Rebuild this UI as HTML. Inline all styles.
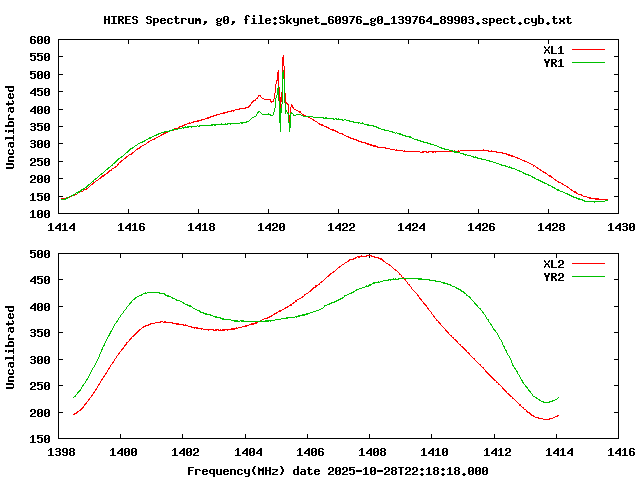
<!DOCTYPE html>
<html><head><meta charset="utf-8"><title>HIRES Spectrum</title>
<style>html,body{margin:0;padding:0;background:#fff;width:640px;height:480px;overflow:hidden}svg{display:block}</style></head><body>
<svg width="640" height="480" viewBox="0 0 640 480" shape-rendering="crispEdges">
<defs>
<path id="g40" d="M3 2h2v1h-2zM2 3h2v2h-2zM1 5h2v3h-2zM2 8h2v2h-2zM3 10h2v1h-2z"/>
<path id="g41" d="M1 2h2v1h-2zM2 3h2v2h-2zM3 5h2v3h-2zM2 8h2v2h-2zM1 10h2v1h-2z"/>
<path id="g44" d="M2 8h3v2h-3zM2 10h2v1h-2zM1 11h2v1h-2z"/>
<path id="g45" d="M0 6h6v2h-6z"/>
<path id="g46" d="M2 9h2v1h-2zM1 10h4v1h-4zM2 11h2v1h-2z"/>
<path id="g48" d="M1 3h4v1h-4zM4 4h2v2h-2zM0 4h2v3h-2zM3 6h3v1h-3zM0 7h3v1h-3zM0 8h2v2h-2zM4 7h2v3h-2zM1 10h4v1h-4z"/>
<path id="g49" d="M2 3h2v1h-2zM1 4h3v1h-3zM0 5h1v1h-1zM2 5h2v5h-2zM0 10h6v1h-6z"/>
<path id="g50" d="M1 3h4v1h-4zM0 4h2v2h-2zM4 4h2v3h-2zM2 7h3v1h-3zM1 8h2v1h-2zM0 9h2v1h-2zM0 10h6v1h-6z"/>
<path id="g51" d="M1 3h4v1h-4zM0 4h2v1h-2zM4 4h2v2h-2zM1 6h4v1h-4zM0 9h2v1h-2zM4 7h2v3h-2zM1 10h4v1h-4z"/>
<path id="g52" d="M4 3h2v1h-2zM3 4h3v1h-3zM2 5h4v1h-4zM1 6h2v1h-2zM0 7h2v1h-2zM4 6h2v2h-2zM0 8h6v1h-6zM4 9h2v2h-2z"/>
<path id="g53" d="M0 3h6v1h-6zM0 4h2v1h-2zM0 5h5v1h-5zM0 6h2v1h-2zM0 9h2v1h-2zM4 6h2v4h-2zM1 10h4v1h-4z"/>
<path id="g54" d="M1 3h4v1h-4zM4 4h2v1h-2zM0 4h2v2h-2zM0 6h5v1h-5zM0 7h2v3h-2zM4 7h2v3h-2zM1 10h4v1h-4z"/>
<path id="g55" d="M0 3h6v1h-6zM4 4h2v1h-2zM3 5h2v2h-2zM2 7h2v2h-2zM1 9h2v2h-2z"/>
<path id="g56" d="M1 3h4v1h-4zM0 4h2v2h-2zM4 4h2v2h-2zM1 6h4v1h-4zM0 7h2v3h-2zM4 7h2v3h-2zM1 10h4v1h-4z"/>
<path id="g57" d="M1 3h4v1h-4zM0 4h2v3h-2zM4 4h2v3h-2zM1 7h5v1h-5zM0 9h2v1h-2zM4 8h2v2h-2zM1 10h4v1h-4z"/>
<path id="g58" d="M2 4h2v1h-2zM1 5h4v1h-4zM2 6h2v1h-2zM2 9h2v1h-2zM1 10h4v1h-4zM2 11h2v1h-2z"/>
<path id="g69" d="M0 3h6v1h-6zM0 4h2v2h-2zM0 6h5v1h-5zM0 7h2v3h-2zM0 10h6v1h-6z"/>
<path id="g70" d="M0 3h6v1h-6zM0 4h2v2h-2zM0 6h5v1h-5zM0 7h2v4h-2z"/>
<path id="g72" d="M0 3h2v3h-2zM4 3h2v3h-2zM0 6h6v1h-6zM0 7h2v4h-2zM4 7h2v4h-2z"/>
<path id="g73" d="M0 3h6v1h-6zM2 4h2v6h-2zM0 10h6v1h-6z"/>
<path id="g76" d="M0 3h2v7h-2zM0 10h6v1h-6z"/>
<path id="g77" d="M0 3h1v1h-1zM5 3h1v1h-1zM0 4h2v1h-2zM4 4h2v1h-2zM0 5h6v2h-6zM0 7h2v4h-2zM4 7h2v4h-2z"/>
<path id="g82" d="M0 3h5v1h-5zM0 4h2v2h-2zM4 4h2v2h-2zM0 6h5v1h-5zM0 7h4v1h-4zM3 8h2v1h-2zM0 8h2v3h-2zM4 9h2v2h-2z"/>
<path id="g83" d="M1 3h4v1h-4zM4 4h2v1h-2zM0 4h2v2h-2zM1 6h4v1h-4zM0 9h2v1h-2zM4 7h2v3h-2zM1 10h4v1h-4z"/>
<path id="g84" d="M0 3h6v1h-6zM2 4h2v7h-2z"/>
<path id="g85" d="M0 3h2v7h-2zM4 3h2v7h-2zM1 10h4v1h-4z"/>
<path id="g88" d="M0 3h1v1h-1zM5 3h1v1h-1zM0 4h2v1h-2zM4 4h2v1h-2zM4 5h1v1h-1zM1 5h1v1h-1zM2 6h2v1h-2zM1 7h4v1h-4zM4 8h1v1h-1zM1 8h1v1h-1zM0 9h2v1h-2zM4 9h2v1h-2zM0 10h1v1h-1zM5 10h1v1h-1z"/>
<path id="g89" d="M0 3h2v2h-2zM4 3h2v2h-2zM1 5h4v2h-4zM2 7h2v4h-2z"/>
<path id="g95" d="M0 10h6v2h-6z"/>
<path id="g97" d="M1 5h4v1h-4zM4 6h2v1h-2zM1 7h5v1h-5zM0 8h2v2h-2zM4 8h2v2h-2zM1 10h5v1h-5z"/>
<path id="g98" d="M0 2h2v3h-2zM0 5h5v1h-5zM0 6h2v4h-2zM4 6h2v4h-2zM0 10h5v1h-5z"/>
<path id="g99" d="M1 5h4v1h-4zM4 6h2v1h-2zM0 6h2v4h-2zM4 9h2v1h-2zM1 10h4v1h-4z"/>
<path id="g100" d="M4 2h2v3h-2zM1 5h5v1h-5zM0 6h2v4h-2zM4 6h2v4h-2zM1 10h5v1h-5z"/>
<path id="g101" d="M1 5h4v1h-4zM0 6h2v1h-2zM4 6h2v1h-2zM0 7h6v1h-6zM0 8h2v2h-2zM4 9h2v1h-2zM1 10h4v1h-4z"/>
<path id="g102" d="M2 2h3v1h-3zM4 3h2v1h-2zM1 3h2v3h-2zM0 6h4v1h-4zM1 7h2v4h-2z"/>
<path id="g103" d="M5 5h1v1h-1zM1 5h3v1h-3zM0 6h2v2h-2zM4 6h2v2h-2zM1 8h4v1h-4zM0 9h2v1h-2zM1 10h4v1h-4zM0 11h2v1h-2zM4 11h2v1h-2zM1 12h4v1h-4z"/>
<path id="g105" d="M2 2h2v2h-2zM1 5h3v1h-3zM2 6h2v4h-2zM0 10h6v1h-6z"/>
<path id="g107" d="M4 5h2v1h-2zM0 2h2v5h-2zM3 6h2v1h-2zM0 7h4v2h-4zM3 9h2v1h-2zM0 9h2v2h-2zM4 10h2v1h-2z"/>
<path id="g108" d="M1 2h3v1h-3zM2 3h2v7h-2zM0 10h6v1h-6z"/>
<path id="g109" d="M0 5h2v1h-2zM3 5h2v1h-2zM0 6h6v2h-6zM0 8h2v3h-2zM4 8h2v3h-2z"/>
<path id="g110" d="M0 5h5v1h-5zM0 6h2v5h-2zM4 6h2v5h-2z"/>
<path id="g112" d="M0 5h5v1h-5zM0 6h2v3h-2zM4 6h2v3h-2zM0 9h5v1h-5zM0 10h2v3h-2z"/>
<path id="g113" d="M1 5h5v1h-5zM0 6h2v3h-2zM4 6h2v3h-2zM1 9h5v1h-5zM4 10h2v3h-2z"/>
<path id="g114" d="M0 5h5v1h-5zM4 6h2v1h-2zM0 6h2v5h-2z"/>
<path id="g115" d="M1 5h4v1h-4zM0 6h2v1h-2zM4 6h2v1h-2zM1 7h2v1h-2zM3 8h2v1h-2zM0 9h2v1h-2zM4 9h2v1h-2zM1 10h4v1h-4z"/>
<path id="g116" d="M1 3h2v2h-2zM0 5h5v1h-5zM4 9h2v1h-2zM1 6h2v4h-2zM2 10h3v1h-3z"/>
<path id="g117" d="M0 5h2v5h-2zM4 5h2v5h-2zM1 10h5v1h-5z"/>
<path id="g120" d="M0 5h2v2h-2zM4 5h2v2h-2zM1 7h4v2h-4zM0 9h2v2h-2zM4 9h2v2h-2z"/>
<path id="g121" d="M0 5h2v4h-2zM4 5h2v4h-2zM1 9h5v1h-5zM4 10h2v2h-2zM1 12h4v1h-4z"/>
<path id="g122" d="M0 5h6v1h-6zM4 6h2v1h-2zM3 7h2v1h-2zM1 8h2v1h-2zM0 9h2v1h-2zM0 10h6v1h-6z"/>
</defs>
<rect width="640" height="480" fill="#fff"/>
<path fill="#000" d="M58 39h561v1h-561zM408 40h1v4h-1zM128 40h1v4h-1zM478 40h1v4h-1zM198 40h1v4h-1zM338 40h1v4h-1zM548 40h1v4h-1zM268 40h1v4h-1zM618 40h1v16h-1zM58 40h1v16h-1zM614 56h5v1h-5zM58 56h5v1h-5zM618 57h1v17h-1zM58 57h1v17h-1zM614 74h5v1h-5zM58 74h5v1h-5zM618 75h1v16h-1zM58 75h1v16h-1zM614 91h5v1h-5zM58 91h5v1h-5zM618 92h1v17h-1zM58 92h1v17h-1zM614 109h5v1h-5zM58 109h5v1h-5zM618 110h1v16h-1zM58 110h1v16h-1zM614 126h5v1h-5zM58 126h5v1h-5zM618 127h1v16h-1zM58 127h1v16h-1zM614 143h5v1h-5zM58 143h5v1h-5zM618 144h1v17h-1zM58 144h1v17h-1zM614 161h5v1h-5zM58 161h5v1h-5zM618 162h1v16h-1zM58 162h1v16h-1zM614 178h5v1h-5zM58 178h5v1h-5zM618 179h1v17h-1zM58 179h1v17h-1zM614 196h5v1h-5zM58 196h5v1h-5zM58 197h1v16h-1zM408 209h1v4h-1zM128 209h1v4h-1zM478 209h1v4h-1zM198 209h1v4h-1zM618 197h1v16h-1zM338 209h1v4h-1zM548 209h1v4h-1zM268 209h1v4h-1zM58 213h561v1h-561zM58 253h561v1h-561zM431 254h1v4h-1zM494 254h1v4h-1zM182 254h1v4h-1zM369 254h1v4h-1zM307 254h1v4h-1zM120 254h1v4h-1zM556 254h1v4h-1zM245 254h1v4h-1zM618 254h1v25h-1zM58 254h1v25h-1zM614 279h5v1h-5zM58 279h5v1h-5zM618 280h1v26h-1zM58 280h1v26h-1zM614 306h5v1h-5zM58 306h5v1h-5zM618 307h1v25h-1zM58 307h1v25h-1zM614 332h5v1h-5zM58 332h5v1h-5zM618 333h1v26h-1zM58 333h1v26h-1zM614 359h5v1h-5zM58 359h5v1h-5zM618 360h1v25h-1zM58 360h1v25h-1zM614 385h5v1h-5zM58 385h5v1h-5zM618 386h1v26h-1zM58 386h1v26h-1zM614 412h5v1h-5zM58 412h5v1h-5zM431 434h1v4h-1zM58 413h1v25h-1zM494 434h1v4h-1zM182 434h1v4h-1zM369 434h1v4h-1zM307 434h1v4h-1zM120 434h1v4h-1zM618 413h1v25h-1zM556 434h1v4h-1zM245 434h1v4h-1zM58 438h561v1h-561z"/>
<path fill="#f00" d="M572 49h33v1h-33zM283 55h1v2h-1zM282 57h2v9h-2zM278 70h1v2h-1zM282 66h1v6h-1zM284 66h1v13h-1zM277 72h2v8h-2zM276 80h3v1h-3zM276 81h1v3h-1zM278 81h1v5h-1zM275 84h1v9h-1zM258 95h3v1h-3zM279 87h1v10h-1zM260 96h1v1h-1zM281 92h1v5h-1zM258 96h1v1h-1zM257 97h1v1h-1zM261 97h1v1h-1zM262 98h2v1h-2zM256 98h2v1h-2zM274 93h1v6h-1zM255 99h1v1h-1zM264 99h7v1h-7zM270 100h1v1h-1zM273 99h1v2h-1zM279 97h3v4h-3zM253 100h3v1h-3zM270 101h4v1h-4zM280 101h2v1h-2zM285 93h1v9h-1zM252 101h2v1h-2zM271 102h1v1h-1zM251 102h2v1h-2zM285 102h2v1h-2zM251 103h1v1h-1zM286 103h2v1h-2zM291 104h1v1h-1zM250 104h1v1h-1zM287 104h2v1h-2zM249 105h2v1h-2zM291 105h2v2h-2zM248 106h2v1h-2zM245 107h4v1h-4zM292 107h2v1h-2zM280 102h1v6h-1zM239 108h7v1h-7zM293 108h1v1h-1zM294 109h2v1h-2zM235 109h5v1h-5zM231 110h4v1h-4zM296 110h2v1h-2zM227 111h5v1h-5zM233 111h1v1h-1zM298 111h3v1h-3zM299 112h2v1h-2zM288 105h1v8h-1zM290 107h1v6h-1zM223 112h5v1h-5zM301 113h1v1h-1zM220 113h5v1h-5zM302 114h2v1h-2zM216 114h4v1h-4zM303 115h3v1h-3zM213 115h4v1h-4zM210 116h4v1h-4zM308 117h2v1h-2zM207 117h4v1h-4zM310 118h2v1h-2zM205 118h4v1h-4zM201 119h4v1h-4zM312 119h2v1h-2zM197 120h5v1h-5zM313 120h2v1h-2zM193 121h6v1h-6zM315 121h2v1h-2zM289 115h1v7h-1zM317 122h1v1h-1zM189 122h1v1h-1zM191 122h3v1h-3zM187 123h4v1h-4zM318 123h2v1h-2zM319 124h4v1h-4zM184 124h3v1h-3zM321 125h3v1h-3zM182 125h3v1h-3zM324 126h3v1h-3zM179 126h4v1h-4zM178 127h2v1h-2zM326 127h3v1h-3zM328 128h2v1h-2zM174 128h4v1h-4zM330 129h4v1h-4zM173 130h1v1h-1zM332 130h4v1h-4zM335 131h3v1h-3zM337 132h2v1h-2zM165 132h3v1h-3zM163 133h3v1h-3zM339 133h4v1h-4zM161 134h3v1h-3zM342 134h2v1h-2zM160 135h2v1h-2zM344 135h2v1h-2zM346 136h3v1h-3zM158 136h2v1h-2zM156 137h2v1h-2zM348 137h3v1h-3zM154 138h2v1h-2zM350 138h4v1h-4zM353 139h4v1h-4zM152 139h3v1h-3zM150 140h2v1h-2zM356 140h3v1h-3zM358 141h4v1h-4zM148 141h2v1h-2zM147 142h2v1h-2zM361 142h5v1h-5zM365 143h4v1h-4zM146 143h1v1h-1zM367 144h5v1h-5zM144 144h2v1h-2zM142 145h2v1h-2zM370 145h6v1h-6zM373 146h5v1h-5zM140 146h2v1h-2zM139 147h2v1h-2zM377 147h9v1h-9zM137 148h3v1h-3zM385 148h5v1h-5zM396 149h1v1h-1zM136 149h2v1h-2zM390 149h5v1h-5zM483 149h1v1h-1zM460 150h29v1h-29zM404 150h1v1h-1zM135 150h1v1h-1zM491 150h1v1h-1zM454 150h1v1h-1zM458 150h1v1h-1zM395 150h8v1h-8zM134 151h1v1h-1zM457 151h3v1h-3zM488 151h9v1h-9zM422 151h5v1h-5zM428 151h24v1h-24zM403 151h17v1h-17zM432 152h2v1h-2zM132 152h2v1h-2zM435 152h1v1h-1zM420 152h4v1h-4zM426 152h3v1h-3zM496 152h7v1h-7zM131 153h2v1h-2zM502 153h5v1h-5zM506 154h4v1h-4zM129 154h3v1h-3zM508 155h5v1h-5zM128 155h1v1h-1zM511 156h4v1h-4zM126 156h2v1h-2zM515 157h3v1h-3zM125 157h2v1h-2zM517 158h3v1h-3zM124 158h2v1h-2zM123 159h1v1h-1zM520 159h2v1h-2zM121 160h2v1h-2zM522 160h3v1h-3zM524 161h3v1h-3zM120 161h2v1h-2zM119 162h2v1h-2zM527 162h2v1h-2zM529 163h2v1h-2zM118 163h1v1h-1zM117 164h2v1h-2zM531 164h2v1h-2zM533 165h2v1h-2zM117 165h1v1h-1zM115 166h2v1h-2zM535 166h1v1h-1zM533 166h1v1h-1zM114 167h2v1h-2zM536 167h2v1h-2zM112 168h2v1h-2zM537 168h2v1h-2zM539 169h2v1h-2zM111 169h1v1h-1zM540 170h2v1h-2zM109 170h3v1h-3zM542 171h2v1h-2zM108 171h2v1h-2zM107 172h2v1h-2zM543 172h3v1h-3zM106 173h2v1h-2zM545 173h2v1h-2zM104 174h2v1h-2zM547 174h1v1h-1zM102 175h3v1h-3zM548 175h3v1h-3zM549 176h3v1h-3zM101 176h3v1h-3zM551 177h2v1h-2zM100 177h2v1h-2zM99 178h2v1h-2zM553 178h1v1h-1zM98 179h1v1h-1zM554 179h2v1h-2zM555 180h2v1h-2zM96 180h2v1h-2zM557 181h2v1h-2zM95 181h1v1h-1zM558 182h3v1h-3zM93 182h2v1h-2zM561 183h2v1h-2zM92 183h2v1h-2zM562 184h2v1h-2zM91 184h2v1h-2zM90 185h1v1h-1zM564 185h2v1h-2zM566 186h2v1h-2zM89 186h1v1h-1zM88 187h1v1h-1zM567 187h2v1h-2zM86 188h2v1h-2zM569 188h1v1h-1zM84 189h3v1h-3zM570 189h2v1h-2zM571 190h2v1h-2zM83 190h1v1h-1zM573 191h3v1h-3zM81 191h2v1h-2zM79 192h1v1h-1zM574 192h3v1h-3zM576 193h2v1h-2zM578 194h4v1h-4zM75 194h2v1h-2zM74 195h1v1h-1zM581 195h2v1h-2zM71 196h1v1h-1zM583 196h4v1h-4zM66 197h1v1h-1zM587 197h4v1h-4zM69 197h1v1h-1zM589 198h10v1h-10zM61 198h4v1h-4zM595 199h13v1h-13zM361 255h1v1h-1zM366 255h6v1h-6zM371 256h4v1h-4zM357 256h10v1h-10zM355 257h2v1h-2zM358 257h2v1h-2zM374 257h5v1h-5zM353 258h3v1h-3zM378 258h4v1h-4zM349 259h5v1h-5zM380 259h3v1h-3zM348 260h2v1h-2zM382 260h2v1h-2zM383 261h2v1h-2zM347 261h2v1h-2zM385 262h1v1h-1zM345 262h2v1h-2zM572 263h33v1h-33zM344 263h1v1h-1zM386 263h2v1h-2zM388 264h2v1h-2zM342 264h2v1h-2zM341 265h1v1h-1zM389 265h2v1h-2zM339 266h2v1h-2zM391 266h1v1h-1zM392 267h1v1h-1zM338 267h2v1h-2zM337 268h1v1h-1zM393 268h1v1h-1zM394 269h2v1h-2zM336 269h1v1h-1zM335 270h1v1h-1zM395 270h2v1h-2zM333 271h2v1h-2zM397 271h1v1h-1zM398 272h1v1h-1zM332 272h2v1h-2zM330 273h2v1h-2zM399 273h1v1h-1zM399 274h2v1h-2zM329 274h2v1h-2zM328 275h2v1h-2zM401 275h1v2h-1zM327 276h2v1h-2zM326 277h1v1h-1zM402 277h2v1h-2zM325 278h1v1h-1zM404 279h2v1h-2zM324 279h1v1h-1zM405 280h1v1h-1zM323 280h1v1h-1zM321 281h2v1h-2zM406 281h1v1h-1zM320 282h2v1h-2zM319 283h1v1h-1zM407 282h1v2h-1zM408 284h2v1h-2zM318 284h2v1h-2zM315 285h3v1h-3zM409 285h1v1h-1zM315 286h2v1h-2zM410 286h1v1h-1zM313 287h3v1h-3zM411 287h1v2h-1zM312 288h2v1h-2zM412 289h1v1h-1zM311 289h2v1h-2zM310 290h2v1h-2zM413 290h1v1h-1zM414 291h1v1h-1zM309 291h2v1h-2zM308 292h1v1h-1zM415 292h1v1h-1zM306 293h2v1h-2zM416 293h1v1h-1zM304 294h2v1h-2zM417 294h1v1h-1zM304 295h1v1h-1zM417 295h2v1h-2zM302 296h2v1h-2zM418 296h1v1h-1zM301 297h2v1h-2zM419 297h1v1h-1zM299 298h2v1h-2zM419 298h2v1h-2zM297 299h2v1h-2zM420 299h2v1h-2zM421 300h1v1h-1zM295 300h2v2h-2zM422 301h1v1h-1zM293 302h2v1h-2zM423 302h1v1h-1zM423 303h2v1h-2zM292 303h2v1h-2zM290 304h2v1h-2zM424 304h2v1h-2zM289 305h3v1h-3zM425 305h2v1h-2zM426 306h1v1h-1zM287 306h2v1h-2zM427 307h1v1h-1zM285 307h3v1h-3zM427 308h2v1h-2zM284 308h2v1h-2zM282 309h2v1h-2zM428 309h1v1h-1zM429 310h1v1h-1zM279 310h3v1h-3zM278 311h3v1h-3zM430 311h1v1h-1zM276 312h2v1h-2zM274 313h3v1h-3zM431 312h1v2h-1zM273 314h2v1h-2zM432 314h1v1h-1zM271 315h2v1h-2zM433 315h1v1h-1zM269 316h3v1h-3zM433 316h2v1h-2zM434 317h1v1h-1zM267 317h3v1h-3zM264 318h4v1h-4zM435 318h1v1h-1zM436 319h1v1h-1zM262 319h2v1h-2zM436 320h2v1h-2zM260 320h1v1h-1zM164 321h2v1h-2zM438 321h1v1h-1zM160 321h3v1h-3zM438 322h2v1h-2zM155 322h6v1h-6zM163 322h10v1h-10zM255 322h3v1h-3zM251 323h6v1h-6zM439 323h2v1h-2zM150 323h5v1h-5zM172 323h7v1h-7zM440 324h1v1h-1zM176 324h8v1h-8zM249 324h5v1h-5zM185 324h1v1h-1zM148 324h3v1h-3zM183 325h5v1h-5zM245 325h4v1h-4zM145 325h4v1h-4zM441 325h1v1h-1zM143 326h3v1h-3zM442 326h1v1h-1zM188 326h4v1h-4zM242 326h5v1h-5zM443 327h1v1h-1zM238 327h4v1h-4zM142 327h2v1h-2zM236 327h1v1h-1zM191 327h7v1h-7zM196 328h7v1h-7zM444 328h1v1h-1zM141 328h1v1h-1zM194 328h1v1h-1zM231 328h7v1h-7zM215 329h4v1h-4zM201 329h1v1h-1zM222 329h13v1h-13zM139 329h2v1h-2zM220 329h1v1h-1zM445 329h1v1h-1zM203 329h11v1h-11zM208 330h1v1h-1zM445 330h2v1h-2zM227 330h1v1h-1zM218 330h7v1h-7zM213 330h4v1h-4zM138 330h2v1h-2zM137 331h2v1h-2zM446 331h2v1h-2zM136 332h2v1h-2zM447 332h2v1h-2zM448 333h1v1h-1zM135 333h2v1h-2zM449 334h1v1h-1zM134 334h2v1h-2zM133 335h2v1h-2zM450 335h2v1h-2zM132 336h2v1h-2zM451 336h1v1h-1zM131 337h1v1h-1zM452 337h2v1h-2zM130 338h2v1h-2zM453 338h1v1h-1zM454 339h2v1h-2zM129 339h2v1h-2zM129 340h1v1h-1zM455 340h2v1h-2zM456 341h2v1h-2zM128 341h1v1h-1zM457 342h1v1h-1zM126 342h2v1h-2zM458 343h1v1h-1zM126 343h1v1h-1zM125 344h2v1h-2zM459 344h2v1h-2zM460 345h1v1h-1zM124 345h2v1h-2zM124 346h1v1h-1zM461 346h2v1h-2zM123 347h1v1h-1zM462 347h2v1h-2zM463 348h2v1h-2zM122 348h2v1h-2zM121 349h2v1h-2zM464 349h2v1h-2zM465 350h2v1h-2zM121 350h1v1h-1zM466 351h1v1h-1zM120 351h1v1h-1zM467 352h2v1h-2zM119 352h1v1h-1zM118 353h2v1h-2zM468 353h2v1h-2zM469 354h1v1h-1zM118 354h1v1h-1zM470 355h1v1h-1zM117 355h1v1h-1zM471 356h1v1h-1zM116 356h1v2h-1zM472 357h1v1h-1zM473 358h2v1h-2zM115 358h1v1h-1zM474 359h1v1h-1zM114 359h1v2h-1zM475 360h1v1h-1zM476 361h1v1h-1zM113 361h1v1h-1zM112 362h2v1h-2zM477 362h1v1h-1zM478 363h1v1h-1zM112 363h1v1h-1zM111 364h1v1h-1zM479 364h2v1h-2zM480 365h1v1h-1zM481 366h1v1h-1zM110 365h1v2h-1zM482 367h2v1h-2zM109 367h1v1h-1zM108 368h2v1h-2zM483 368h1v1h-1zM108 369h1v1h-1zM484 369h1v1h-1zM485 370h1v1h-1zM485 371h2v1h-2zM107 370h1v2h-1zM486 372h2v1h-2zM106 372h1v1h-1zM487 373h2v1h-2zM105 373h2v1h-2zM105 374h1v1h-1zM488 374h2v1h-2zM489 375h2v1h-2zM104 375h1v1h-1zM103 376h2v1h-2zM490 376h2v1h-2zM103 377h1v1h-1zM491 377h2v1h-2zM102 378h1v1h-1zM492 378h2v1h-2zM101 379h2v1h-2zM493 379h2v1h-2zM101 380h1v1h-1zM494 380h2v1h-2zM496 381h1v1h-1zM496 382h2v1h-2zM100 381h1v2h-1zM99 383h1v1h-1zM498 383h1v1h-1zM498 384h2v1h-2zM98 384h2v1h-2zM500 385h1v1h-1zM98 385h1v1h-1zM501 386h1v1h-1zM502 387h1v1h-1zM97 386h1v2h-1zM502 388h2v1h-2zM96 388h1v1h-1zM95 389h2v1h-2zM503 389h2v1h-2zM504 390h2v1h-2zM95 390h1v1h-1zM505 391h2v1h-2zM94 391h1v1h-1zM506 392h1v1h-1zM93 392h2v1h-2zM507 393h2v1h-2zM93 393h1v1h-1zM92 394h1v1h-1zM508 394h2v1h-2zM509 395h2v1h-2zM91 395h2v1h-2zM91 396h1v1h-1zM510 396h2v1h-2zM90 397h1v1h-1zM512 397h1v1h-1zM89 398h1v1h-1zM512 398h2v1h-2zM88 399h2v1h-2zM514 399h1v1h-1zM88 400h1v1h-1zM515 400h1v1h-1zM87 401h1v1h-1zM516 401h1v1h-1zM517 402h1v1h-1zM86 402h1v1h-1zM518 403h1v1h-1zM85 403h2v1h-2zM84 404h2v1h-2zM519 404h2v2h-2zM84 405h1v1h-1zM83 406h1v1h-1zM521 406h1v1h-1zM82 407h2v1h-2zM522 407h2v1h-2zM81 408h2v1h-2zM523 408h1v1h-1zM524 409h2v1h-2zM80 409h2v1h-2zM79 410h2v1h-2zM526 410h1v1h-1zM77 411h2v1h-2zM526 411h2v1h-2zM527 412h3v1h-3zM76 412h2v1h-2zM529 413h2v1h-2zM74 413h3v1h-3zM73 414h2v1h-2zM530 414h2v1h-2zM557 415h2v1h-2zM531 415h3v1h-3zM533 416h2v1h-2zM555 416h3v1h-3zM553 417h2v1h-2zM535 417h4v1h-4zM549 418h4v1h-4zM538 418h5v1h-5zM543 419h7v1h-7z"/>
<path fill="#00c000" d="M572 62h33v1h-33zM283 70h1v2h-1zM282 72h2v7h-2zM278 86h1v2h-1zM277 88h2v7h-2zM276 95h1v3h-1zM278 95h1v6h-1zM284 79h1v24h-1zM282 79h1v25h-1zM275 98h1v10h-1zM281 104h1v4h-1zM279 101h1v7h-1zM285 103h1v7h-1zM258 111h2v1h-2zM285 110h2v2h-2zM274 108h1v4h-1zM257 112h2v1h-2zM260 112h1v1h-1zM279 108h3v5h-3zM291 112h1v1h-1zM287 112h1v1h-1zM257 113h1v1h-1zM290 113h3v1h-3zM287 113h2v1h-2zM285 112h1v2h-1zM268 113h1v1h-1zM261 113h1v1h-1zM273 112h1v3h-1zM296 114h5v1h-5zM262 114h9v1h-9zM293 114h1v1h-1zM293 115h3v1h-3zM270 115h3v1h-3zM256 114h1v2h-1zM301 115h2v1h-2zM303 116h10v1h-10zM254 116h2v1h-2zM313 117h11v1h-11zM252 117h2v1h-2zM325 117h2v1h-2zM335 118h2v1h-2zM338 118h1v1h-1zM323 118h11v1h-11zM251 118h1v1h-1zM333 119h2v1h-2zM336 119h7v1h-7zM250 119h1v1h-1zM344 119h2v1h-2zM346 120h4v1h-4zM342 120h2v1h-2zM249 120h1v1h-1zM290 114h1v8h-1zM288 114h1v8h-1zM349 121h5v1h-5zM246 121h3v1h-3zM362 122h1v1h-1zM353 122h7v1h-7zM288 122h3v1h-3zM240 122h7v1h-7zM279 113h2v10h-2zM360 123h4v1h-4zM221 123h1v1h-1zM358 123h1v1h-1zM241 123h2v1h-2zM227 123h13v1h-13zM225 123h1v1h-1zM230 124h1v1h-1zM211 124h17v1h-17zM364 124h5v1h-5zM199 125h14v1h-14zM197 125h1v1h-1zM214 125h2v1h-2zM367 125h7v1h-7zM198 126h2v1h-2zM373 126h4v1h-4zM185 126h1v1h-1zM187 126h10v1h-10zM376 127h3v1h-3zM191 127h1v1h-1zM182 127h7v1h-7zM289 123h2v5h-2zM183 128h1v1h-1zM378 128h3v1h-3zM178 128h4v1h-4zM381 129h4v1h-4zM172 129h6v1h-6zM384 130h5v1h-5zM169 130h4v1h-4zM389 131h4v1h-4zM164 131h6v1h-6zM289 128h1v4h-1zM280 123h1v9h-1zM396 132h1v1h-1zM161 132h4v1h-4zM392 132h3v1h-3zM397 133h4v1h-4zM395 133h1v1h-1zM158 133h3v1h-3zM399 134h4v1h-4zM156 134h3v1h-3zM402 135h4v1h-4zM154 135h3v1h-3zM152 136h2v1h-2zM405 136h6v1h-6zM409 137h3v1h-3zM149 137h3v1h-3zM148 138h3v1h-3zM412 138h2v1h-2zM146 139h2v1h-2zM414 139h4v1h-4zM417 140h4v1h-4zM144 140h2v1h-2zM142 141h3v1h-3zM420 141h4v1h-4zM423 142h5v1h-5zM140 142h3v1h-3zM138 143h2v1h-2zM427 143h4v1h-4zM430 144h4v1h-4zM137 144h1v1h-1zM434 145h3v1h-3zM135 145h2v1h-2zM134 146h1v1h-1zM437 146h2v1h-2zM439 147h3v1h-3zM132 147h2v1h-2zM441 148h4v1h-4zM130 148h3v1h-3zM444 149h5v1h-5zM129 149h2v1h-2zM128 150h2v1h-2zM449 150h4v1h-4zM452 151h5v1h-5zM127 151h2v1h-2zM454 152h6v1h-6zM126 152h2v1h-2zM125 153h1v1h-1zM460 153h4v1h-4zM463 154h4v1h-4zM124 154h1v1h-1zM123 155h1v1h-1zM467 155h4v1h-4zM465 155h1v1h-1zM121 156h2v1h-2zM475 156h1v1h-1zM471 156h3v1h-3zM120 157h2v1h-2zM473 157h5v1h-5zM477 158h5v1h-5zM118 158h2v1h-2zM117 159h2v1h-2zM481 159h5v1h-5zM116 160h2v1h-2zM486 160h4v1h-4zM115 161h2v1h-2zM489 161h4v1h-4zM114 162h2v1h-2zM493 162h3v1h-3zM113 163h2v1h-2zM496 163h3v1h-3zM112 164h1v1h-1zM499 164h3v1h-3zM501 165h5v1h-5zM111 165h2v1h-2zM509 166h1v1h-1zM505 166h3v1h-3zM110 166h1v1h-1zM108 167h2v1h-2zM508 167h4v1h-4zM511 168h4v1h-4zM107 168h2v1h-2zM106 169h2v1h-2zM515 169h2v1h-2zM105 170h1v1h-1zM517 170h3v1h-3zM519 171h3v1h-3zM104 171h1v1h-1zM103 172h1v1h-1zM522 172h2v1h-2zM101 173h2v1h-2zM523 173h3v1h-3zM525 174h4v1h-4zM100 174h2v1h-2zM99 175h1v1h-1zM528 175h3v1h-3zM531 176h2v1h-2zM98 176h1v1h-1zM532 177h3v1h-3zM97 177h1v1h-1zM95 178h2v1h-2zM534 178h2v1h-2zM94 179h2v1h-2zM536 179h3v1h-3zM538 180h3v1h-3zM93 180h1v1h-1zM540 181h3v1h-3zM92 181h2v1h-2zM542 182h3v1h-3zM91 182h1v1h-1zM90 183h1v1h-1zM544 183h3v1h-3zM88 184h2v1h-2zM547 184h2v1h-2zM548 185h3v1h-3zM87 185h2v1h-2zM86 186h2v1h-2zM551 186h2v1h-2zM85 187h2v1h-2zM552 187h3v1h-3zM83 188h2v1h-2zM554 188h2v1h-2zM556 189h3v1h-3zM81 189h3v1h-3zM557 190h3v1h-3zM80 190h2v1h-2zM560 191h3v1h-3zM78 191h3v1h-3zM563 192h2v1h-2zM76 192h3v1h-3zM75 193h1v1h-1zM565 193h3v1h-3zM77 193h1v1h-1zM73 194h2v1h-2zM567 194h3v1h-3zM569 195h3v1h-3zM71 195h3v1h-3zM571 196h3v1h-3zM69 196h2v1h-2zM573 197h4v1h-4zM67 197h2v1h-2zM576 198h4v1h-4zM65 198h3v1h-3zM61 199h5v1h-5zM578 199h5v1h-5zM582 200h3v1h-3zM605 200h3v1h-3zM584 201h21v1h-21zM594 202h1v1h-1zM572 276h33v1h-33zM398 278h24v1h-24zM395 278h1v1h-1zM393 278h1v1h-1zM418 279h12v1h-12zM388 279h11v1h-11zM383 280h6v1h-6zM429 280h7v1h-7zM390 280h1v1h-1zM378 281h1v1h-1zM435 281h6v1h-6zM380 281h3v1h-3zM441 282h4v1h-4zM373 282h7v1h-7zM372 283h3v1h-3zM443 283h5v1h-5zM447 284h4v1h-4zM369 284h3v1h-3zM368 285h3v1h-3zM366 285h1v1h-1zM450 285h2v1h-2zM452 286h3v1h-3zM365 286h4v1h-4zM362 287h3v1h-3zM455 287h2v1h-2zM456 288h3v1h-3zM359 288h3v1h-3zM458 289h3v1h-3zM356 289h3v1h-3zM355 290h2v1h-2zM460 290h2v1h-2zM461 291h3v1h-3zM353 291h2v1h-2zM463 292h2v1h-2zM145 292h1v1h-1zM147 292h13v1h-13zM351 292h3v1h-3zM143 293h4v1h-4zM464 293h2v1h-2zM159 293h6v1h-6zM349 293h3v1h-3zM347 294h2v1h-2zM141 294h2v1h-2zM466 294h1v1h-1zM164 294h2v1h-2zM466 295h2v1h-2zM139 295h3v1h-3zM344 295h3v1h-3zM165 295h4v1h-4zM137 296h2v1h-2zM344 296h1v1h-1zM167 296h4v1h-4zM468 296h2v1h-2zM469 297h2v1h-2zM171 297h2v1h-2zM135 297h2v1h-2zM342 297h2v1h-2zM340 298h3v1h-3zM172 298h3v1h-3zM134 298h2v1h-2zM470 298h1v1h-1zM175 299h2v1h-2zM471 299h1v1h-1zM133 299h2v1h-2zM338 299h3v1h-3zM132 300h1v1h-1zM472 300h1v1h-1zM176 300h4v1h-4zM336 300h3v1h-3zM473 301h1v1h-1zM131 301h1v1h-1zM180 301h2v1h-2zM334 301h3v1h-3zM331 302h4v1h-4zM130 302h2v1h-2zM182 302h2v1h-2zM474 302h1v1h-1zM329 303h3v1h-3zM183 303h2v1h-2zM474 303h2v1h-2zM129 303h2v1h-2zM185 304h3v1h-3zM129 304h1v1h-1zM475 304h2v1h-2zM327 304h3v1h-3zM476 305h2v1h-2zM324 305h3v1h-3zM187 305h4v1h-4zM128 305h1v1h-1zM127 306h1v1h-1zM477 306h1v1h-1zM189 306h3v1h-3zM324 306h1v1h-1zM478 307h1v1h-1zM323 307h1v1h-1zM192 307h1v1h-1zM321 308h2v1h-2zM193 308h2v1h-2zM126 307h1v2h-1zM479 308h2v1h-2zM480 309h1v1h-1zM125 309h1v1h-1zM319 309h2v1h-2zM195 309h2v1h-2zM481 310h1v1h-1zM124 310h1v1h-1zM197 310h3v1h-3zM316 310h3v1h-3zM313 311h3v1h-3zM482 311h1v1h-1zM199 311h2v1h-2zM123 311h1v2h-1zM482 312h2v1h-2zM310 312h3v1h-3zM200 312h4v1h-4zM122 313h1v1h-1zM306 313h4v1h-4zM483 313h1v1h-1zM203 313h4v1h-4zM121 314h1v1h-1zM484 314h1v1h-1zM302 314h6v1h-6zM205 314h6v1h-6zM210 315h3v1h-3zM298 315h7v1h-7zM485 315h1v2h-1zM120 315h1v2h-1zM295 316h5v1h-5zM213 316h4v1h-4zM119 317h1v1h-1zM215 317h6v1h-6zM286 317h9v1h-9zM296 317h1v1h-1zM281 318h7v1h-7zM486 317h1v2h-1zM220 318h4v1h-4zM275 319h6v1h-6zM487 319h2v1h-2zM118 318h1v2h-1zM222 319h9v1h-9zM240 320h4v1h-4zM117 320h1v1h-1zM231 320h7v1h-7zM265 320h10v1h-10zM261 320h1v1h-1zM270 321h1v1h-1zM488 320h1v2h-1zM234 321h6v1h-6zM241 321h28v1h-28zM116 321h2v1h-2zM489 322h1v1h-1zM116 322h1v1h-1zM490 323h1v1h-1zM115 323h1v1h-1zM490 324h2v1h-2zM491 325h1v1h-1zM114 324h1v2h-1zM492 326h1v2h-1zM113 326h1v2h-1zM493 328h1v1h-1zM112 328h1v2h-1zM493 329h2v1h-2zM111 330h1v1h-1zM494 330h2v1h-2zM110 331h2v1h-2zM495 331h1v1h-1zM496 332h1v1h-1zM110 332h1v1h-1zM109 333h2v1h-2zM497 333h1v2h-1zM109 334h1v1h-1zM108 335h2v1h-2zM108 336h1v1h-1zM498 335h1v2h-1zM107 337h1v2h-1zM499 337h1v2h-1zM500 339h1v1h-1zM106 339h1v2h-1zM501 340h1v2h-1zM105 341h1v2h-1zM502 342h1v3h-1zM104 343h1v2h-1zM103 345h2v1h-2zM503 345h1v1h-1zM103 346h1v1h-1zM503 346h2v1h-2zM504 347h1v2h-1zM102 347h1v2h-1zM101 349h2v1h-2zM505 349h1v1h-1zM505 350h2v1h-2zM101 350h1v2h-1zM506 351h1v2h-1zM100 352h1v2h-1zM507 353h1v2h-1zM508 355h1v1h-1zM99 354h1v3h-1zM509 356h1v2h-1zM98 357h1v2h-1zM510 358h1v2h-1zM97 359h1v2h-1zM511 360h1v3h-1zM96 361h1v2h-1zM512 363h1v2h-1zM95 363h1v2h-1zM512 365h2v1h-2zM513 366h1v1h-1zM94 365h1v2h-1zM93 367h1v1h-1zM514 367h1v1h-1zM514 368h2v1h-2zM515 369h1v1h-1zM92 368h1v2h-1zM516 370h1v1h-1zM91 370h1v2h-1zM516 371h2v1h-2zM90 372h1v2h-1zM517 372h1v2h-1zM518 374h1v1h-1zM89 374h1v2h-1zM519 375h1v2h-1zM88 376h1v2h-1zM520 377h1v2h-1zM87 378h1v1h-1zM86 379h2v1h-2zM521 379h1v1h-1zM521 380h2v1h-2zM86 380h1v1h-1zM522 381h1v1h-1zM522 382h2v1h-2zM85 381h1v2h-1zM523 383h1v1h-1zM84 383h1v1h-1zM524 384h1v1h-1zM83 384h1v1h-1zM82 385h2v1h-2zM525 385h1v1h-1zM82 386h1v1h-1zM525 386h2v1h-2zM526 387h2v1h-2zM81 387h1v2h-1zM527 388h1v1h-1zM528 389h1v1h-1zM80 389h1v1h-1zM79 390h2v1h-2zM528 390h2v1h-2zM529 391h2v1h-2zM78 391h2v1h-2zM77 392h2v1h-2zM530 392h1v1h-1zM531 393h1v1h-1zM77 393h1v1h-1zM76 394h1v1h-1zM75 395h1v1h-1zM532 394h1v2h-1zM533 396h2v1h-2zM74 396h2v1h-2zM558 397h1v1h-1zM535 397h2v1h-2zM73 397h1v1h-1zM557 398h1v1h-1zM536 398h2v1h-2zM538 399h2v1h-2zM555 399h2v1h-2zM552 400h3v1h-3zM539 400h2v1h-2zM549 401h4v1h-4zM541 401h3v1h-3zM543 402h7v1h-7z"/>
<g fill="#000">
<g transform="translate(30 207)"><use href="#g49" x="0"/><use href="#g48" x="7"/><use href="#g48" x="14"/></g>
<g transform="translate(30 190)"><use href="#g49" x="0"/><use href="#g53" x="7"/><use href="#g48" x="14"/></g>
<g transform="translate(30 172)"><use href="#g50" x="0"/><use href="#g48" x="7"/><use href="#g48" x="14"/></g>
<g transform="translate(30 155)"><use href="#g50" x="0"/><use href="#g53" x="7"/><use href="#g48" x="14"/></g>
<g transform="translate(30 137)"><use href="#g51" x="0"/><use href="#g48" x="7"/><use href="#g48" x="14"/></g>
<g transform="translate(30 120)"><use href="#g51" x="0"/><use href="#g53" x="7"/><use href="#g48" x="14"/></g>
<g transform="translate(30 103)"><use href="#g52" x="0"/><use href="#g48" x="7"/><use href="#g48" x="14"/></g>
<g transform="translate(30 85)"><use href="#g52" x="0"/><use href="#g53" x="7"/><use href="#g48" x="14"/></g>
<g transform="translate(30 68)"><use href="#g53" x="0"/><use href="#g48" x="7"/><use href="#g48" x="14"/></g>
<g transform="translate(30 50)"><use href="#g53" x="0"/><use href="#g53" x="7"/><use href="#g48" x="14"/></g>
<g transform="translate(30 33)"><use href="#g54" x="0"/><use href="#g48" x="7"/><use href="#g48" x="14"/></g>
<g transform="translate(48 220)"><use href="#g49" x="0"/><use href="#g52" x="7"/><use href="#g49" x="14"/><use href="#g52" x="21"/></g>
<g transform="translate(118 220)"><use href="#g49" x="0"/><use href="#g52" x="7"/><use href="#g49" x="14"/><use href="#g54" x="21"/></g>
<g transform="translate(188 220)"><use href="#g49" x="0"/><use href="#g52" x="7"/><use href="#g49" x="14"/><use href="#g56" x="21"/></g>
<g transform="translate(258 220)"><use href="#g49" x="0"/><use href="#g52" x="7"/><use href="#g50" x="14"/><use href="#g48" x="21"/></g>
<g transform="translate(328 220)"><use href="#g49" x="0"/><use href="#g52" x="7"/><use href="#g50" x="14"/><use href="#g50" x="21"/></g>
<g transform="translate(398 220)"><use href="#g49" x="0"/><use href="#g52" x="7"/><use href="#g50" x="14"/><use href="#g52" x="21"/></g>
<g transform="translate(468 220)"><use href="#g49" x="0"/><use href="#g52" x="7"/><use href="#g50" x="14"/><use href="#g54" x="21"/></g>
<g transform="translate(538 220)"><use href="#g49" x="0"/><use href="#g52" x="7"/><use href="#g50" x="14"/><use href="#g56" x="21"/></g>
<g transform="translate(608 220)"><use href="#g49" x="0"/><use href="#g52" x="7"/><use href="#g51" x="14"/><use href="#g48" x="21"/></g>
<g transform="translate(544 43)"><use href="#g88" x="0"/><use href="#g76" x="7"/><use href="#g49" x="14"/></g>
<g transform="translate(544 56)"><use href="#g89" x="0"/><use href="#g82" x="7"/><use href="#g49" x="14"/></g>
<g transform="translate(30 432)"><use href="#g49" x="0"/><use href="#g53" x="7"/><use href="#g48" x="14"/></g>
<g transform="translate(30 406)"><use href="#g50" x="0"/><use href="#g48" x="7"/><use href="#g48" x="14"/></g>
<g transform="translate(30 379)"><use href="#g50" x="0"/><use href="#g53" x="7"/><use href="#g48" x="14"/></g>
<g transform="translate(30 353)"><use href="#g51" x="0"/><use href="#g48" x="7"/><use href="#g48" x="14"/></g>
<g transform="translate(30 326)"><use href="#g51" x="0"/><use href="#g53" x="7"/><use href="#g48" x="14"/></g>
<g transform="translate(30 300)"><use href="#g52" x="0"/><use href="#g48" x="7"/><use href="#g48" x="14"/></g>
<g transform="translate(30 273)"><use href="#g52" x="0"/><use href="#g53" x="7"/><use href="#g48" x="14"/></g>
<g transform="translate(30 247)"><use href="#g53" x="0"/><use href="#g48" x="7"/><use href="#g48" x="14"/></g>
<g transform="translate(48 445)"><use href="#g49" x="0"/><use href="#g51" x="7"/><use href="#g57" x="14"/><use href="#g56" x="21"/></g>
<g transform="translate(110 445)"><use href="#g49" x="0"/><use href="#g52" x="7"/><use href="#g48" x="14"/><use href="#g48" x="21"/></g>
<g transform="translate(172 445)"><use href="#g49" x="0"/><use href="#g52" x="7"/><use href="#g48" x="14"/><use href="#g50" x="21"/></g>
<g transform="translate(235 445)"><use href="#g49" x="0"/><use href="#g52" x="7"/><use href="#g48" x="14"/><use href="#g52" x="21"/></g>
<g transform="translate(297 445)"><use href="#g49" x="0"/><use href="#g52" x="7"/><use href="#g48" x="14"/><use href="#g54" x="21"/></g>
<g transform="translate(359 445)"><use href="#g49" x="0"/><use href="#g52" x="7"/><use href="#g48" x="14"/><use href="#g56" x="21"/></g>
<g transform="translate(421 445)"><use href="#g49" x="0"/><use href="#g52" x="7"/><use href="#g49" x="14"/><use href="#g48" x="21"/></g>
<g transform="translate(484 445)"><use href="#g49" x="0"/><use href="#g52" x="7"/><use href="#g49" x="14"/><use href="#g50" x="21"/></g>
<g transform="translate(546 445)"><use href="#g49" x="0"/><use href="#g52" x="7"/><use href="#g49" x="14"/><use href="#g52" x="21"/></g>
<g transform="translate(608 445)"><use href="#g49" x="0"/><use href="#g52" x="7"/><use href="#g49" x="14"/><use href="#g54" x="21"/></g>
<g transform="translate(544 257)"><use href="#g88" x="0"/><use href="#g76" x="7"/><use href="#g50" x="14"/></g>
<g transform="translate(544 270)"><use href="#g89" x="0"/><use href="#g82" x="7"/><use href="#g50" x="14"/></g>
<g transform="translate(104 13)"><use href="#g72" x="0"/><use href="#g73" x="7"/><use href="#g82" x="14"/><use href="#g69" x="21"/><use href="#g83" x="28"/><use href="#g83" x="42"/><use href="#g112" x="49"/><use href="#g101" x="56"/><use href="#g99" x="63"/><use href="#g116" x="70"/><use href="#g114" x="77"/><use href="#g117" x="84"/><use href="#g109" x="91"/><use href="#g44" x="98"/><use href="#g103" x="112"/><use href="#g48" x="119"/><use href="#g44" x="126"/><use href="#g102" x="140"/><use href="#g105" x="147"/><use href="#g108" x="154"/><use href="#g101" x="161"/><use href="#g58" x="168"/><use href="#g83" x="175"/><use href="#g107" x="182"/><use href="#g121" x="189"/><use href="#g110" x="196"/><use href="#g101" x="203"/><use href="#g116" x="210"/><use href="#g95" x="217"/><use href="#g54" x="224"/><use href="#g48" x="231"/><use href="#g57" x="238"/><use href="#g55" x="245"/><use href="#g54" x="252"/><use href="#g95" x="259"/><use href="#g103" x="266"/><use href="#g48" x="273"/><use href="#g95" x="280"/><use href="#g49" x="287"/><use href="#g51" x="294"/><use href="#g57" x="301"/><use href="#g55" x="308"/><use href="#g54" x="315"/><use href="#g52" x="322"/><use href="#g95" x="329"/><use href="#g56" x="336"/><use href="#g57" x="343"/><use href="#g57" x="350"/><use href="#g48" x="357"/><use href="#g51" x="364"/><use href="#g46" x="371"/><use href="#g115" x="378"/><use href="#g112" x="385"/><use href="#g101" x="392"/><use href="#g99" x="399"/><use href="#g116" x="406"/><use href="#g46" x="413"/><use href="#g99" x="420"/><use href="#g121" x="427"/><use href="#g98" x="434"/><use href="#g46" x="441"/><use href="#g116" x="448"/><use href="#g120" x="455"/><use href="#g116" x="462"/></g>
<g transform="translate(188 464)"><use href="#g70" x="0"/><use href="#g114" x="7"/><use href="#g101" x="14"/><use href="#g113" x="21"/><use href="#g117" x="28"/><use href="#g101" x="35"/><use href="#g110" x="42"/><use href="#g99" x="49"/><use href="#g121" x="56"/><use href="#g40" x="63"/><use href="#g77" x="70"/><use href="#g72" x="77"/><use href="#g122" x="84"/><use href="#g41" x="91"/><use href="#g100" x="105"/><use href="#g97" x="112"/><use href="#g116" x="119"/><use href="#g101" x="126"/><use href="#g50" x="140"/><use href="#g48" x="147"/><use href="#g50" x="154"/><use href="#g53" x="161"/><use href="#g45" x="168"/><use href="#g49" x="175"/><use href="#g48" x="182"/><use href="#g45" x="189"/><use href="#g50" x="196"/><use href="#g56" x="203"/><use href="#g84" x="210"/><use href="#g50" x="217"/><use href="#g50" x="224"/><use href="#g58" x="231"/><use href="#g49" x="238"/><use href="#g56" x="245"/><use href="#g58" x="252"/><use href="#g49" x="259"/><use href="#g56" x="266"/><use href="#g46" x="273"/><use href="#g48" x="280"/><use href="#g48" x="287"/><use href="#g48" x="294"/></g>
<g transform="translate(3 169) rotate(-90)"><use href="#g85" x="0"/><use href="#g110" x="7"/><use href="#g99" x="14"/><use href="#g97" x="21"/><use href="#g108" x="28"/><use href="#g105" x="35"/><use href="#g98" x="42"/><use href="#g114" x="49"/><use href="#g97" x="56"/><use href="#g116" x="63"/><use href="#g101" x="70"/><use href="#g100" x="77"/></g>
<g transform="translate(3 389) rotate(-90)"><use href="#g85" x="0"/><use href="#g110" x="7"/><use href="#g99" x="14"/><use href="#g97" x="21"/><use href="#g108" x="28"/><use href="#g105" x="35"/><use href="#g98" x="42"/><use href="#g114" x="49"/><use href="#g97" x="56"/><use href="#g116" x="63"/><use href="#g101" x="70"/><use href="#g100" x="77"/></g>
</g>
</svg>
</body></html>
